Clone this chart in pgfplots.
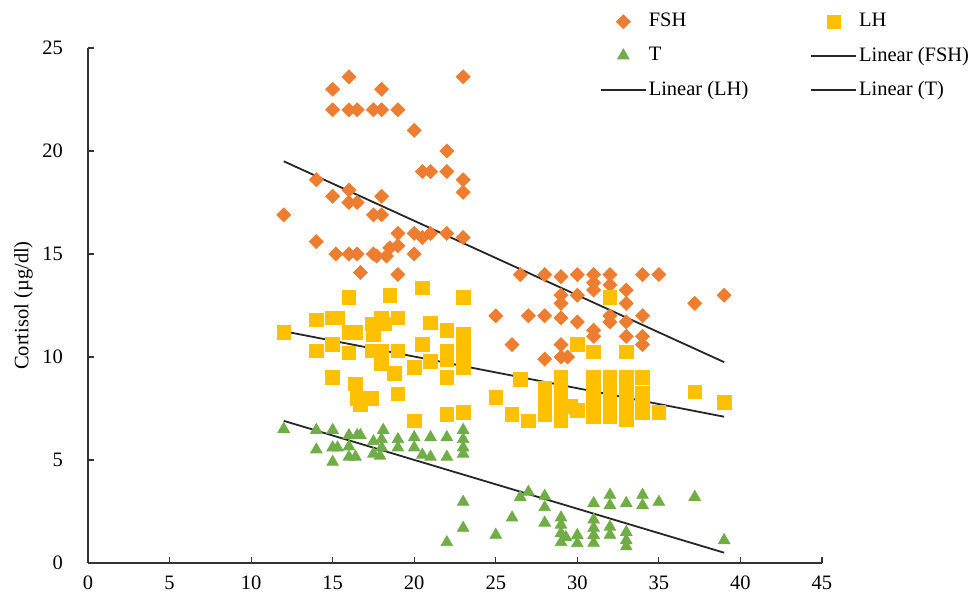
\documentclass[border=0pt]{standalone}
\usepackage{fontspec}
\setmainfont{Liberation Serif}
\usepackage{pgfplots}
\pgfplotsset{compat=1.18}
\definecolor{fshOrange}{RGB}{237,125,49}
\definecolor{lhGold}{RGB}{255,192,0}
\definecolor{tGreen}{RGB}{112,173,71}

\begin{document}
\begin{tikzpicture}
% page frame, in pt (1 px of the reference = 0.5pt)
\useasboundingbox (-44pt,-17pt) rectangle (441.5pt,281.5pt);
\begin{axis}[
  at={(0,0)}, anchor=south west,
  scale only axis,
  width=367pt, height=257.5pt,
  xmin=0, xmax=45, ymin=0, ymax=25,
  xtick={0,5,...,45}, ytick={0,5,...,25},
  axis x line*=bottom, axis y line*=left,
  axis line style={-, draw=black!80, line width=0.6pt},
  tick align=inside,
  major tick length=3pt,
  tick style={draw=black!80, line width=0.6pt},
  font=\fontsize{10.25}{12}\selectfont,
  tick label style={font=\fontsize{10.25}{12}\selectfont},
  /pgf/number format/assume math mode=true,
  yticklabel style={xshift=-9pt},
  xticklabel style={yshift=-3pt},
  ylabel={Cortisol (µg/dl)},
  ylabel style={at={(axis description cs:-0.088,0.5)}, anchor=center},
  legend columns=2,
  legend cell align=left,
  legend image code/.code={
    \draw[mark repeat=2, mark phase=2, #1]
      plot coordinates {(0pt,0pt) (11.25pt,0pt) (22.5pt,0pt)};},
  legend style={at={(axis description cs:0.6975,1.071)}, anchor=north west,
                draw=none, fill=none, inner sep=0pt, outer sep=0pt,
                nodes={inner sep=1pt},
                row sep=6.5pt,
                /tikz/every even column/.append style={column sep=30pt},
                font=\fontsize{10.25}{12}\selectfont},
]
\addplot[only marks, mark=square*, mark size=2.45pt,
         mark options={rotate=45, fill=fshOrange, draw=fshOrange}] coordinates {
  (12,16.9) (14,18.6) (14,15.6) (15,23) (15,22) (15,17.8) (15.2,15)
  (16,23.6) (16,22) (16,18.1) (16,17.5) (16,15) (16.5,22) (16.5,17.5)
  (16.5,15) (16.7,14.1) (17.5,22) (17.5,16.9) (17.5,15) (17.7,14.9)
  (18,23) (18,22) (18,17.8) (18,16.9) (18.3,14.9) (18.5,15.3)
  (19,22) (19,16) (19,15.4) (19,14) (20,21) (20,16) (20,15)
  (20.5,19) (20.5,15.8) (21,19) (21,16) (22,20) (22,19) (22,16)
  (23,23.6) (23,18.6) (23,18) (23,15.8)
  (25,12) (26,10.6) (26.5,14) (27,12) (28,14) (28,12) (28,9.9)
  (29,13.9) (29,13) (29,12.6) (29,11.9) (29,10.6) (29,10) (29.4,10)
  (30,14) (30,13) (30,11.7) (31,14) (31,13.6) (31,13.25) (31,11.3) (31,11)
  (32,14) (32,13.5) (32,12) (32,11.7) (33,13.25) (33,12.6) (33,11.7) (33,11)
  (34,14) (34,12) (34,11) (34,10.6) (35,14) (37.2,12.6) (39,13)
};
\addlegendentry{FSH}

\addplot[only marks, mark=square*, mark size=3.4pt,
         mark options={fill=lhGold, draw=lhGold}] coordinates {
  (12,11.2) (14,11.8) (14,10.3) (15,11.9) (15.3,11.9) (15,10.6) (15,9)
  (16,12.9) (16,11.2) (16.4,11.2) (16,10.2) (16.4,8.7) (16.5,8) (16.7,7.7)
  (17.4,8) (17.4,11.6) (17.5,11.1) (17.4,10.3) (18,11.9) (18.2,11.6)
  (18,10.3) (18,9.7) (18.5,13) (18.8,9.2) (19,11.9) (19,10.3) (19,8.2)
  (20,9.5) (20,6.9) (20.5,13.35) (20.5,10.6) (21,11.65) (21,9.8)
  (22,11.3) (22,10.3) (22,9.85) (22,9) (22,7.2)
  (23,12.9) (23,11.1) (23,10.7) (23,10.3) (23,9.95) (23,9.5) (23,7.3)
  (25,8.05) (26,7.2) (26.5,8.9) (27,6.9)
  (28,8.5) (28,8.05) (28,7.6) (28,7.2)
  (29,9) (29,8.5) (29,8) (29,7.5) (29,6.9) (29.6,7.6) (30,10.6) (30,7.4)
  (31,10.25) (31,9) (31,8.5) (31,8.05) (31,7.6) (31,7.1)
  (32,12.9) (32,9) (32,8.5) (32,8) (32,7.5) (32,7.1)
  (33,10.25) (33,9) (33,8.5) (33,7.9) (33,7.4) (33,6.95)
  (34,9) (34,8.25) (34,7.8) (34,7.3) (35,7.3) (37.2,8.3) (39,7.8)
};
\addlegendentry{LH}

\addplot[only marks, mark=triangle*, mark size=3.3pt,
         mark options={fill=tGreen, draw=tGreen}] coordinates {
  (12,6.5) (14,6.45) (14,5.5) (15,6.45) (15,5.6) (15.3,5.6) (15,4.9)
  (16,6.2) (16,5.65) (16,5.15) (16.5,6.2) (16.4,5.15) (16.7,6.2)
  (17.5,5.9) (17.5,5.3) (18.1,6.45) (18,6) (18,5.6) (17.9,5.2)
  (19,6) (19,5.6) (20,6.1) (20,5.6) (20.5,5.25) (21,6.1) (21,5.15)
  (22,6.1) (22,5.15) (23,6.45) (23,6) (23,5.6) (23,5.3)
  (23,2.96) (23,1.7) (22,1) (25,1.36) (26,2.2) (26.5,3.2) (27,3.45)
  (28,3.25) (28,2.7) (28,1.95) (29,2.2) (29,1.85) (29,1.45) (29,1) (29.3,1.25)
  (30,1.35) (30,0.95) (31,2.9) (31,2.1) (31,1.7) (31,1.35) (31,0.97)
  (32,3.3) (32,2.8) (32,1.75) (32,1.36) (33,2.9) (33,1.5) (33,1.1) (33,0.8)
  (34,3.3) (34,2.8) (35,2.96) (37.2,3.2) (39,1.1)
};
\addlegendentry{T}

% linear trend lines, end points
\addplot[black!85, line width=0.9pt] coordinates {(12,19.5) (39,9.75)};
\addlegendentry{Linear (FSH)}
\addplot[black!85, line width=0.9pt] coordinates {(12,11.25) (39,7.1)};
\addlegendentry{Linear (LH)}
\addplot[black!85, line width=0.9pt] coordinates {(12,6.9) (39,0.5)};
\addlegendentry{Linear (T)}
\end{axis}
\end{tikzpicture}
\end{document}
